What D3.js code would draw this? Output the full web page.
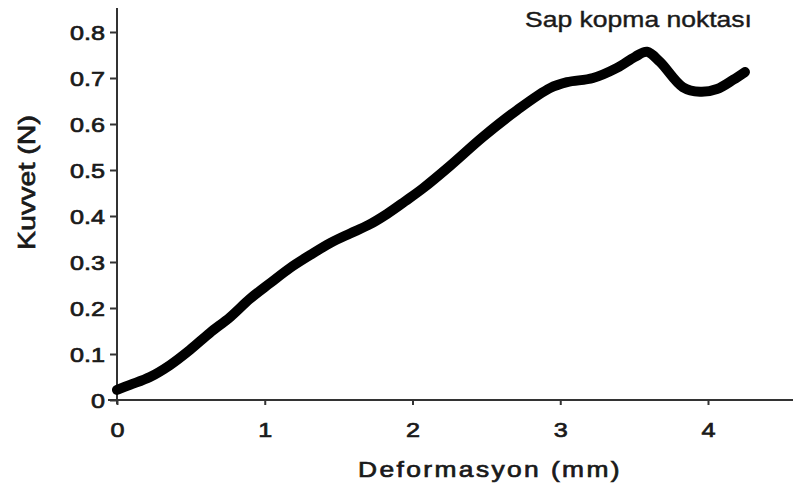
<!DOCTYPE html>
<html>
<head>
<meta charset="utf-8">
<script src="https://cdn.jsdelivr.net/npm/d3@7"></script>
<style>
  body { margin: 0; background: #fff; }
  svg text { font-family: "Liberation Sans", Arial, sans-serif; fill: #1a1a1a; stroke: #1a1a1a; stroke-width: 0.7px; }
</style>
</head>
<body>
<div id="chart"></div>
<script>
// data: deformation (mm) vs force (N)
var deformasyon = [0, 0.088, 0.223, 0.359, 0.494, 0.629, 0.765, 0.90, 1.036, 1.171, 1.307, 1.442, 1.578, 1.70, 1.83, 1.95, 2.07, 2.254, 2.477, 2.707, 2.93, 3.046, 3.222, 3.384, 3.506, 3.587, 3.675, 3.83, 3.946, 4.061, 4.17, 4.25];
var kuvvet = [0.022, 0.033, 0.050, 0.076, 0.109, 0.146, 0.180, 0.220, 0.254, 0.287, 0.315, 0.341, 0.362, 0.380, 0.405, 0.432, 0.460, 0.509, 0.572, 0.630, 0.678, 0.691, 0.700, 0.722, 0.746, 0.757, 0.735, 0.680, 0.670, 0.676, 0.696, 0.713];
var xTicks = [0, 1, 2, 3, 4];
var yTicks = [0, 0.1, 0.2, 0.3, 0.4, 0.5, 0.6, 0.7, 0.8];
var xTitle = "Deformasyon (mm)";
var yTitle = "Kuvvet (N)";
var note = "Sap kopma noktası";

var W = 793, H = 488;
var stretch = 1.2; // the original text looks widened

var svg = d3.select("#chart").append("svg")
    .attr("width", W)
    .attr("height", H);

var x = d3.scaleLinear().domain([0, 4]).range([117, 708]);
var y = d3.scaleLinear().domain([0, 0.8]).range([400, 32]);

// x axis
var xAxis = svg.append("g")
    .attr("transform", "translate(0," + y(0) + ")")
    .call(d3.axisBottom(x).tickValues(xTicks).tickSize(5).tickSizeOuter(0).tickFormat(d3.format("d")));
xAxis.select(".domain").remove();
xAxis.append("line")
    .attr("x1", 108).attr("x2", W)
    .attr("stroke", "#333").attr("stroke-width", 2);
xAxis.selectAll(".tick line").attr("stroke", "#333").attr("stroke-width", 2);
xAxis.selectAll(".tick text")
    .attr("y", 0)
    .attr("dy", "37px")
    .attr("x", 0)
    .style("font-size", "21px")
    .attr("transform", "scale(" + stretch + ",1)");

// y axis
var yAxis = svg.append("g")
    .attr("transform", "translate(" + x(0) + ",0)")
    .call(d3.axisLeft(y).tickValues(yTicks).tickSize(7).tickSizeOuter(0)
        .tickFormat(function(d) { return d === 0 ? "0" : d3.format(".1f")(d); }));
yAxis.select(".domain").remove();
yAxis.append("line")
    .attr("y1", 8).attr("y2", 404)
    .attr("stroke", "#333").attr("stroke-width", 2);
yAxis.selectAll(".tick line").attr("stroke", "#333").attr("stroke-width", 2);
yAxis.selectAll(".tick text")
    .style("font-size", "21px")
    .attr("dy", "0.36em")
    .attr("x", -12 / stretch)
    .attr("transform", "scale(" + stretch + ",1)");

// curve
var pts = deformasyon.map(function(d, i) { return [d, kuvvet[i]]; });
var line = d3.line()
    .x(function(d) { return x(d[0]); })
    .y(function(d) { return y(d[1]); })
    .curve(d3.curveCatmullRom.alpha(0.5));

svg.append("path")
    .datum(pts)
    .attr("d", line)
    .attr("fill", "none")
    .attr("stroke", "#000")
    .attr("stroke-width", 10)
    .attr("stroke-linejoin", "round")
    .attr("stroke-linecap", "round");

// titles
svg.append("text")
    .attr("x", 358)
    .attr("y", 477)
    .attr("textLength", 264)
    .attr("lengthAdjust", "spacingAndGlyphs")
    .style("font-size", "22px")
    .style("letter-spacing", "2px")
    .text(xTitle);

svg.append("text")
    .attr("transform", "translate(35,250) rotate(-90)")
    .attr("textLength", 135)
    .attr("lengthAdjust", "spacingAndGlyphs")
    .style("font-size", "24px")
    .text(yTitle);

svg.append("text")
    .attr("x", 525)
    .attr("y", 27)
    .attr("textLength", 227)
    .attr("lengthAdjust", "spacingAndGlyphs")
    .style("font-size", "22px")
    .style("stroke-width", "0.4px")
    .text(note);
</script>
</body>
</html>
